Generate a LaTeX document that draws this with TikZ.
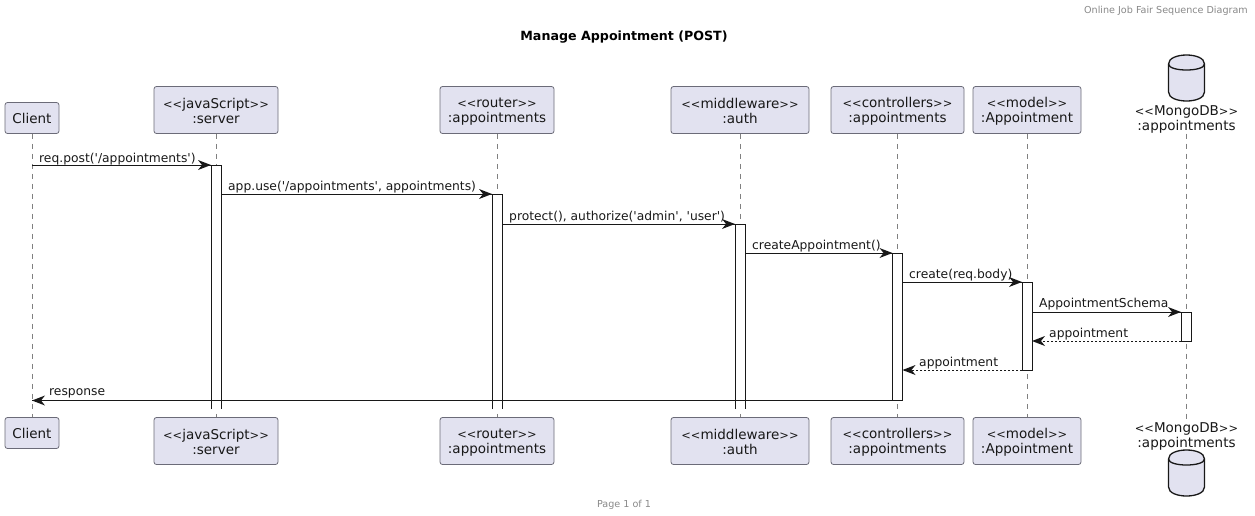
\documentclass[tikz,border=0pt]{standalone}
\usepackage{fontspec}
\setmainfont{DejaVu Sans}
\definecolor{partfill}{HTML}{E2E2F0}
\definecolor{partline}{HTML}{6B6B78}
\definecolor{lifeline}{HTML}{808080}
\definecolor{inkc}{HTML}{181818}
\definecolor{faint}{HTML}{888888}
\newcommand{\dbsym}[2]{%
 \draw[dbline] (#1-18,#2-6) -- (#1-18,#2+22) .. controls (#1-18,#2+34) and (#1+18,#2+34) .. (#1+18,#2+22) -- (#1+18,#2-6) .. controls (#1+18,#2-18) and (#1-18,#2-18) .. (#1-18,#2-6) -- cycle;
 \draw[dbline,fill=none] (#1-18,#2-6) .. controls (#1-18,#2+2) and (#1+18,#2+2) .. (#1+18,#2-6);
}
\tikzset{
 x=1pt,y=-1pt,
 part/.style={draw=partline,fill=partfill,rounded corners=2.5pt,line width=.8pt,inner sep=0pt,align=center,font=\fontsize{13.5}{15.5}\selectfont,text=inkc},
 dbtext/.style={inner sep=0pt,align=center,font=\fontsize{13.5}{15.5}\selectfont,text=inkc},
 life/.style={draw=lifeline,line width=.7pt,dash pattern=on 5pt off 5pt},
 act/.style={draw=inkc,fill=white,line width=1pt,inner sep=0pt,outer sep=0pt,minimum width=10pt},
 actopen/.style={draw=none,fill=white,inner sep=0pt,outer sep=0pt,minimum width=10pt},
 actedge/.style={draw=inkc,line width=1pt},
 msg/.style={draw=inkc,line width=1pt},
 ret/.style={msg,dash pattern=on 2pt off 2pt},
 mlabel/.style={inner sep=0pt,anchor=base west,font=\fontsize{12.3}{14}\selectfont,text=inkc},
 dbline/.style={draw=inkc,fill=partfill,line width=1.3pt},
 headc/.style={inner sep=0pt,text=faint,font=\fontsize{9.6}{12}\selectfont},
}
\newcommand{\tip}[3]{% x y dir(+1 = points right)
 \fill[inkc] (#1,#2) -- (#1-#3*13,#2-5) -- (#1-#3*9,#2) -- (#1-#3*13,#2+5) -- cycle;
}
\newcommand{\q}{\textquotesingle}
\newcommand{\sopen}{\rule{0pt}{12.5pt}{\fontsize{11.4}{15}\selectfont<{}<}}
\newcommand{\sclose}{{\fontsize{11.4}{15}\selectfont>{}>}}
\begin{document}
\begin{tikzpicture}
\useasboundingbox (0,0) rectangle (1255,515);
% title and header
\node[headc,anchor=north east] (hdr) at (1248,6) {Online Job Fair Sequence Diagram};
\node[inner sep=0pt,font=\fontsize{12.65}{15}\selectfont\bfseries,text=black] (ttl) at (624,37) {Manage Appointment (POST)};
\node[headc] (ftr) at (624,504.5) {Page 1 of 1};
% participants
\newcommand{\partbox}[6]{\node[part,minimum width=#3pt,minimum height=#4pt] (#1) at (#2,#5) {#6};}
\partbox{ct}{32}{54}{31}{118}{Client}
\partbox{st}{216}{124}{47}{110}{\sopen javaScript\sclose\\:server}
\partbox{rt}{497}{114}{47}{110}{\sopen router\sclose\\:appointments}
\partbox{mt}{740}{138}{47}{110}{\sopen middleware\sclose\\:auth}
\partbox{kt}{897.5}{133}{47}{110}{\sopen controllers\sclose\\:appointments}
\partbox{at}{1027}{108}{47}{110}{\sopen model\sclose\\:Appointment}
\partbox{cb}{32}{54}{31}{433}{Client}
\partbox{sb}{216}{124}{47}{441}{\sopen javaScript\sclose\\:server}
\partbox{rb}{497}{114}{47}{441}{\sopen router\sclose\\:appointments}
\partbox{mb}{740}{138}{47}{441}{\sopen middleware\sclose\\:auth}
\partbox{kb}{897.5}{133}{47}{441}{\sopen controllers\sclose\\:appointments}
\partbox{ab}{1027}{108}{47}{441}{\sopen model\sclose\\:Appointment}
\node[dbtext] (dt) at (1186.5,118) {\sopen MongoDB\sclose\\:appointments};
\node[dbtext] (db) at (1186.5,435) {\sopen MongoDB\sclose\\:appointments};
\dbsym{1186.5}{70}
\dbsym{1186.5}{465}
% lifelines
\draw[life] (ct.south) -- (cb.north);
\draw[life] (st.south) -- (sb.north);
\draw[life] (rt.south) -- (rb.north);
\draw[life] (mt.south) -- (mb.north);
\draw[life] (kt.south) -- (kb.north);
\draw[life] (at.south) -- (ab.north);
\draw[life] (dt.south) -- (db.north);
% activations
\node[actopen,minimum height=244pt] (as) at (216,287) {};
\draw[actedge] (as.south west) -- (as.north west) -- (as.north east) -- (as.south east);
\node[actopen,minimum height=215pt] (ar) at (497,301.5) {};
\draw[actedge] (ar.south west) -- (ar.north west) -- (ar.north east) -- (ar.south east);
\node[actopen,minimum height=185pt] (am) at (740,316.5) {};
\draw[actedge] (am.south west) -- (am.north west) -- (am.north east) -- (am.south east);
\node[act,minimum height=147.5pt] (ak) at (897.5,326.75) {};
\node[act,minimum height=88pt] (aa) at (1027,326) {};
\node[act,minimum height=29pt] (ad) at (1186,326.5) {};
% messages
\coordinate (c1) at (ct.south |- 0,165);
\draw[msg] (c1) -- (as.north west); \tip{211}{165}{1}
\node[mlabel] (l1) at (39,162) {req.post(\q/appointments\q)};
\draw[msg] (as.east |- 0,194) -- (ar.north west); \tip{492}{194}{1}
\node[mlabel] (l2) at (228,190.5) {app.use(\q/appointments\q, appointments)};
\draw[msg] (ar.east |- 0,224) -- (am.north west); \tip{735}{224}{1}
\node[mlabel] (l3) at (509,220) {protect(), authorize(\q admin\q, \q user\q)};
\draw[msg] (am.east |- 0,253) -- (ak.north west); \tip{892.5}{253}{1}
\node[mlabel] (l4) at (752,249.5) {createAppointment()};
\draw[msg] (ak.east |- 0,282) -- (aa.north west); \tip{1022}{282}{1}
\node[mlabel] (l5) at (909,278.5) {create(req.body)};
\draw[msg] (aa.east |- 0,312) -- (ad.north west); \tip{1181}{312}{1}
\node[mlabel] (l6) at (1039,307.5) {AppointmentSchema};
\draw[ret] (ad.south west) -- (aa.east |- 0,341); \tip{1032}{341}{-1}
\node[mlabel] (l7) at (1049,337.5) {appointment};
\draw[ret] (aa.south west) -- (ak.east |- 0,370); \tip{902.5}{370}{-1}
\node[mlabel] (l8) at (919,366.5) {appointment};
\draw[msg] (ak.south west) -- (c1 |- 0,400.5); \tip{32}{400.5}{-1}
\node[mlabel] (l9) at (49,395) {response};
\end{tikzpicture}
\end{document}
